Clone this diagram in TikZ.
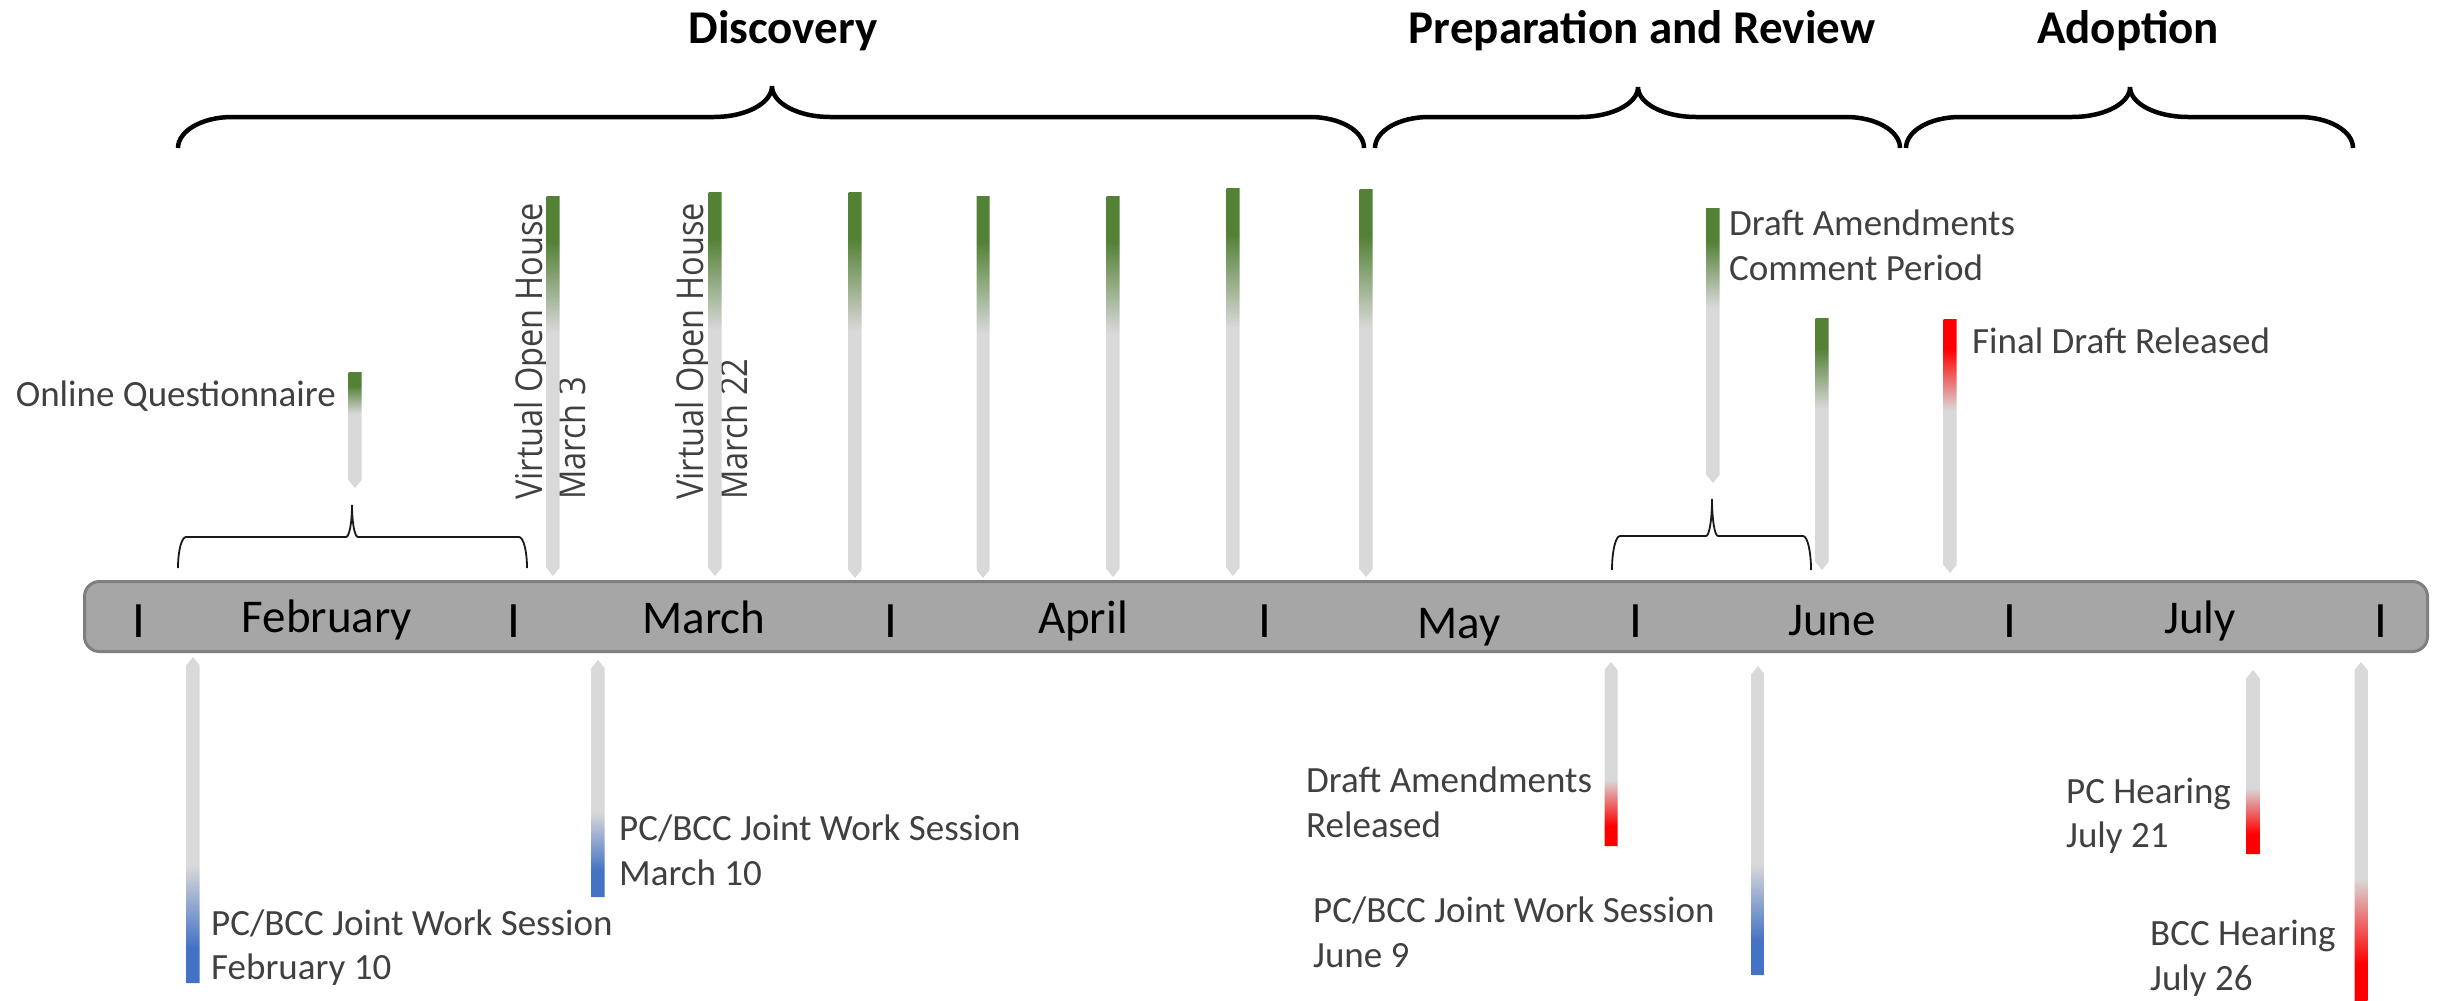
\documentclass[tikz,border=0pt]{standalone}
\usepackage{fontspec}
\setmainfont{Carlito}
\newfontfamily\rotfont{Open Sans}
\definecolor{dg}{HTML}{538135}
\definecolor{lg}{HTML}{D9D9D9}
\definecolor{bl}{HTML}{4472C4}
\definecolor{rd}{HTML}{FF0000}
\definecolor{tlfill}{HTML}{A6A6A6}
\definecolor{tlline}{HTML}{7F7F7F}
\definecolor{txt}{HTML}{404040}
\pgfdeclareverticalshading{upgreen}{100bp}{color(0bp)=(lg); color(57bp)=(lg); color(69bp)=(dg); color(100bp)=(dg)}
\pgfdeclareverticalshading{upred}{100bp}{color(0bp)=(lg); color(57bp)=(lg); color(69bp)=(rd); color(100bp)=(rd)}
\pgfdeclareverticalshading{dnblue}{100bp}{color(0bp)=(bl); color(30.5bp)=(bl); color(43bp)=(lg); color(100bp)=(lg)}
\pgfdeclareverticalshading{dnred}{100bp}{color(0bp)=(rd); color(30.5bp)=(rd); color(43bp)=(lg); color(100bp)=(lg)}
% upper bar: name, x, top, tip, shading
\newcommand\upbar[5]{%
  \path[shading=#5] ({#2-6.5},#3) -- ({#2+6.5},#3) -- ({#2+6.5},{#4-8}) -- (#2,#4) -- ({#2-6.5},{#4-8}) -- cycle;
  \coordinate (#1) at (#2,#4);}
% lower bar: name, x, top, bottom, shading
\newcommand\dnbar[5]{%
  \path[shading=#5] (#2,#3) -- ({#2+6.5},{#3+8}) -- ({#2+6.5},#4) -- ({#2-6.5},#4) -- ({#2-6.5},{#3+8}) -- cycle;
  \coordinate (#1) at (#2,#3);}
% brace: x1,x2,xt,yend,yflat,ytip,dxe,dxt,style
\newcommand\mybrace[9]{%
  \draw[#9] (#1,#4) .. controls (#1,{#4-0.552*(#4-#5)}) and ({#1+0.448*#7},#5) .. ({#1+#7},#5)
   -- ({#3-#8},#5) .. controls ({#3-0.448*#8},#5) and (#3,{#6+0.552*(#5-#6)}) .. (#3,#6)
   .. controls (#3,{#6+0.552*(#5-#6)}) and ({#3+0.448*#8},#5) .. ({#3+#8},#5)
   -- ({#2-#7},#5) .. controls ({#2-0.448*#7},#5) and (#2,{#4-0.552*(#4-#5)}) .. (#2,#4);}
\newcommand\rottext[1]{\scalebox{0.88}[1]{#1}}
\tikzset{
  lbl/.style={font=\fontsize{37}{44}\selectfont, text=txt, inner sep=0pt},
  month/.style={font=\fontsize{47}{56}\selectfont, text=black, inner sep=0pt, anchor=base},
  head/.style={font=\bfseries\fontsize{47}{56}\selectfont, text=black, inner sep=0pt, anchor=base},
  rot/.style={font=\rotfont\fontsize{37}{44}\selectfont, text=txt, rotate=90, anchor=base west, inner sep=0pt},
  tickmark/.style={font=\fontsize{51}{60}\selectfont, text=black, inner sep=0pt, anchor=base},
  bigbrace/.style={line width=4.5pt, black},
  smallbrace/.style={line width=1.8pt, black!90},
}
\begin{document}
\begin{tikzpicture}[x=1pt,y=-1pt]
\useasboundingbox (0,0) rectangle (2447,1001);
% headers
\node[head] (hdisc) at (783,43) {Discovery};
\node[head] (hprep) at (1642,43) {Preparation and Review};
\node[head] (hadop) at (2128,43) {Adoption};
% big braces
\mybrace{178}{1364}{772}{148}{117}{86}{54}{58}{bigbrace}
\mybrace{1375}{1900}{1638}{148}{117}{87}{54}{58}{bigbrace}
\mybrace{1906}{2353}{2130}{148}{117}{87}{54}{58}{bigbrace}
% small braces
\mybrace{178}{527}{352}{568}{537}{505}{8}{6}{smallbrace}
\mybrace{1612}{1811}{1712}{570}{536}{499}{8}{6}{smallbrace}
% timeline
\draw[line width=3pt, draw=tlline, fill=tlfill, rounded corners=15pt] (84.5,581.5) rectangle (2427.5,651.5);
\foreach \x [count=\i] in {139,514,891,1265,1636,2010,2381}
  \node[tickmark] (tk\i) at (\x,637) {I};
\node[month] (mfeb) at (327,632) {February};
\node[month] (mmar) at (704,633) {March};
\node[month] (mapr) at (1083,633) {April};
\node[month] (mmay) at (1459,638) {May};
\node[month] (mjun) at (1832,635) {June};
\node[month] (mjul) at (2200,633) {July};
% rotated labels
\node[rot] (lv1a) at (542,500) {\rottext{Virtual Open House}};
\node[rot] (lv1b) at (585,500) {\rottext{March 3}};
\node[rot] (lv2a) at (703,500) {\rottext{Virtual Open House}};
\node[rot] (lv2b) at (747,500) {\rottext{March 22}};
% upper bars
\upbar{u1}{355}{372}{488}{upgreen}
\upbar{u2}{553}{196}{576}{upgreen}
\upbar{u3}{715}{192}{576}{upgreen}
\upbar{u4}{855}{192}{578}{upgreen}
\upbar{u5}{983}{196}{578}{upgreen}
\upbar{u6}{1113}{196}{577}{upgreen}
\upbar{u7}{1233}{188}{576}{upgreen}
\upbar{u8}{1366}{189}{577}{upgreen}
\upbar{u9}{1713}{208}{483}{upgreen}
\upbar{u10}{1822}{318}{570}{upgreen}
\upbar{u11}{1950}{319}{573}{upred}
% lower bars
\dnbar{d1}{193}{657}{983}{dnblue}
\dnbar{d2}{598}{660}{897}{dnblue}
\dnbar{d3}{1611}{662}{846}{dnred}
\dnbar{d4}{1758}{666}{975}{dnblue}
\dnbar{d5}{2253}{670}{854}{dnred}
\dnbar{d6}{2361}{662}{1001}{dnred}
% labels
\node[lbl, anchor=base east] (loq) at (336,406) {Online Questionnaire};
\node[lbl, anchor=base west] (ldacp1) at (1729,235) {Draft Amendments};
\node[lbl, anchor=base west] (ldacp2) at (1729,280) {Comment Period};
\node[lbl, anchor=base west] (lfdr) at (1972,353) {Final Draft Released};
\node[lbl, anchor=base west] (lfeb1) at (211,935) {PC/BCC Joint Work Session};
\node[lbl, anchor=base west] (lfeb2) at (211,979) {February 10};
\node[lbl, anchor=base west] (lmar1) at (619,840) {PC/BCC Joint Work Session};
\node[lbl, anchor=base west] (lmar2) at (619,885) {March 10};
\node[lbl, anchor=base west] (ldar1) at (1306,792) {Draft Amendments};
\node[lbl, anchor=base west] (ldar2) at (1306,837) {Released};
\node[lbl, anchor=base west] (ljun1) at (1313,922) {PC/BCC Joint Work Session};
\node[lbl, anchor=base west] (ljun2) at (1313,967) {June 9};
\node[lbl, anchor=base west] (lpc1) at (2066,803) {PC Hearing};
\node[lbl, anchor=base west] (lpc2) at (2066,847) {July 21};
\node[lbl, anchor=base west] (lbcc1) at (2150,945) {BCC Hearing};
\node[lbl, anchor=base west] (lbcc2) at (2150,990) {July 26};
\end{tikzpicture}
\end{document}
